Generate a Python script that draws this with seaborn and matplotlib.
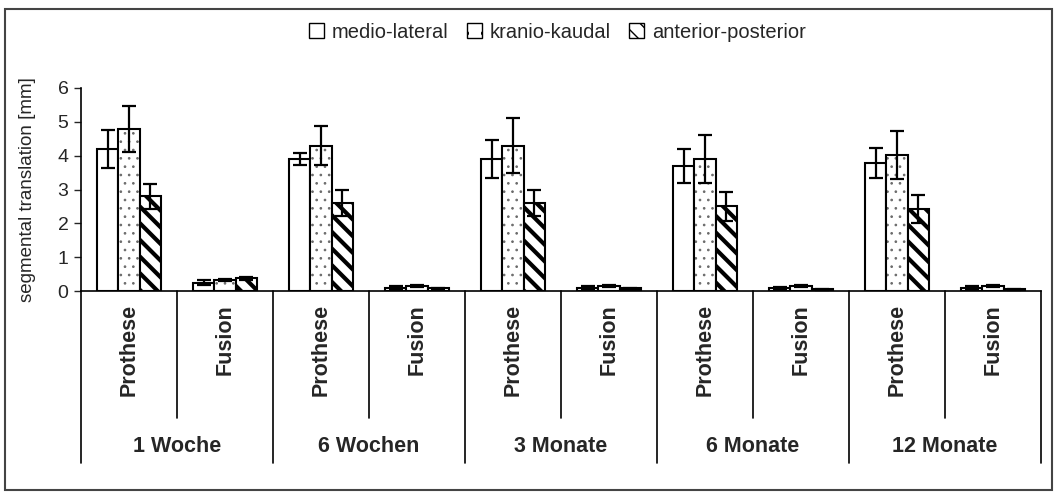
import matplotlib
matplotlib.use("Agg")
import matplotlib.pyplot as plt
import seaborn as sns
import pandas as pd
from matplotlib.patches import Patch, Rectangle
from matplotlib import colors as mcolors

# ---- data ----
gruppen = ["1 Woche", "6 Wochen", "3 Monate", "6 Monate", "12 Monate"]
verfahren = ["Prothese", "Fusion"]
richtungen = ["medio-lateral", "kranio-kaudal", "anterior-posterior"]

ml = [4.2, 0.25, 3.9, 0.10, 3.9, 0.10, 3.7, 0.08, 3.78, 0.10]
ml_err = [0.56, 0.07, 0.17, 0.04, 0.55, 0.04, 0.50, 0.03, 0.45, 0.04]
kk = [4.8, 0.33, 4.3, 0.15, 4.3, 0.15, 3.9, 0.15, 4.02, 0.15]
kk_err = [0.68, 0.03, 0.57, 0.03, 0.80, 0.03, 0.72, 0.03, 0.71, 0.03]
ap = [2.8, 0.37, 2.6, 0.08, 2.6, 0.08, 2.5, 0.05, 2.42, 0.05]
ap_err = [0.37, 0.04, 0.39, 0.02, 0.38, 0.02, 0.43, 0.02, 0.42, 0.02]

y_ticks = [0, 1, 2, 3, 4, 5, 6]
y_label = "segmental translation [mm]"

# ---- long-form table ----
kats = [f"{g}|{v}" for g in gruppen for v in verfahren]
werte = {"medio-lateral": ml, "kranio-kaudal": kk, "anterior-posterior": ap}
fehler = {"medio-lateral": ml_err, "kranio-kaudal": kk_err, "anterior-posterior": ap_err}
rows = []
for r in richtungen:
    for k, w in zip(kats, werte[r]):
        rows.append({"kat": k, "richtung": r, "wert": w})
df = pd.DataFrame(rows)

sns.set_style("white")
plt.rcParams["font.family"] = ["Liberation Sans", "DejaVu Sans"]
plt.rcParams["hatch.linewidth"] = 1.0

fig = plt.figure(figsize=(10.58, 4.97), dpi=100)
ax = fig.add_axes([81 / 1058, 1 - 291 / 497, 960 / 1058, 203 / 497])

sns.barplot(data=df, x="kat", y="wert", hue="richtung", order=kats,
            hue_order=richtungen, palette={r: "white" for r in richtungen},
            width=0.67, errorbar=None, edgecolor="black", linewidth=1.5,
            legend=False, ax=ax, saturation=1)

hatches = ["", "..", "\\\\"]
hlw = [1.0, 0.7, 3.0]
hcol = ["black", "#6a6a6a", "black"]
for cont, h, lw, hc, r in zip(ax.containers, hatches, hlw, hcol, richtungen):
    xs = []
    for bar in cont.patches:
        bar.set_hatch(h)
        if hasattr(bar, "set_hatch_linewidth"):
            bar.set_hatch_linewidth(lw)
        bar._hatch_color = mcolors.to_rgba(hc)
        xs.append(bar.get_x() + bar.get_width() / 2)
    ax.errorbar(xs, werte[r], yerr=fehler[r], fmt="none", ecolor="black",
                elinewidth=1.6, capsize=5, capthick=1.6, zorder=5)

ax.set_xlim(-0.5, len(kats) - 0.5)
ax.set_ylim(0, 6)
ax.set_yticks(y_ticks)
ax.set_yticklabels([str(t) for t in y_ticks], fontsize=14)
ax.tick_params(axis="y", direction="out", length=5, width=1, pad=4, left=True)
ax.set_xticks([])
ax.set_xlabel("")
ax.set_ylabel(y_label, fontsize=13.5)
ax.yaxis.set_label_coords(-0.056, 0.5)
ax.yaxis.label.set_va("center")
for s in ["top", "right"]:
    ax.spines[s].set_visible(False)
for s in ["left", "bottom"]:
    ax.spines[s].set_color("black")
    ax.spines[s].set_linewidth(1.2)

# multi-level category labels
tr = ax.get_xaxis_transform()
for i, k in enumerate(kats):
    g, v = k.split("|")
    ax.text(i, -0.065, v, rotation=90, ha="center", va="top",
            fontsize=15.5, fontweight="bold", transform=tr)
for j, g in enumerate(gruppen):
    ax.text(2 * j + 0.5, -0.768, g, ha="center", va="center",
            fontsize=15.5, fontweight="bold", transform=tr)
for b in range(len(kats) + 1):
    xb = b - 0.5
    y_end = -0.847 if b % 2 == 0 else -0.626
    ax.plot([xb, xb], [0, y_end], color="black", lw=1.2,
            transform=tr, clip_on=False)

# legend
handles = [Patch(facecolor="white", edgecolor="black", hatch=h, label=r)
           for h, r in zip(["", ".", "\\\\"], richtungen)]
fig.legend(handles=handles, loc="center", bbox_to_anchor=(0.527, 1 - 32 / 497),
           ncol=3, frameon=False, fontsize=14.5, handlelength=0.75,
           handleheight=0.75, handletextpad=0.4, columnspacing=0.9)

# outer frame
fig.patches.append(Rectangle((5 / 1058, 1 - 490 / 497), 1047 / 1058, 481 / 497,
                             transform=fig.transFigure, fill=False,
                             edgecolor="#444444", lw=1.5))

fig.savefig("out.png", dpi=100)
